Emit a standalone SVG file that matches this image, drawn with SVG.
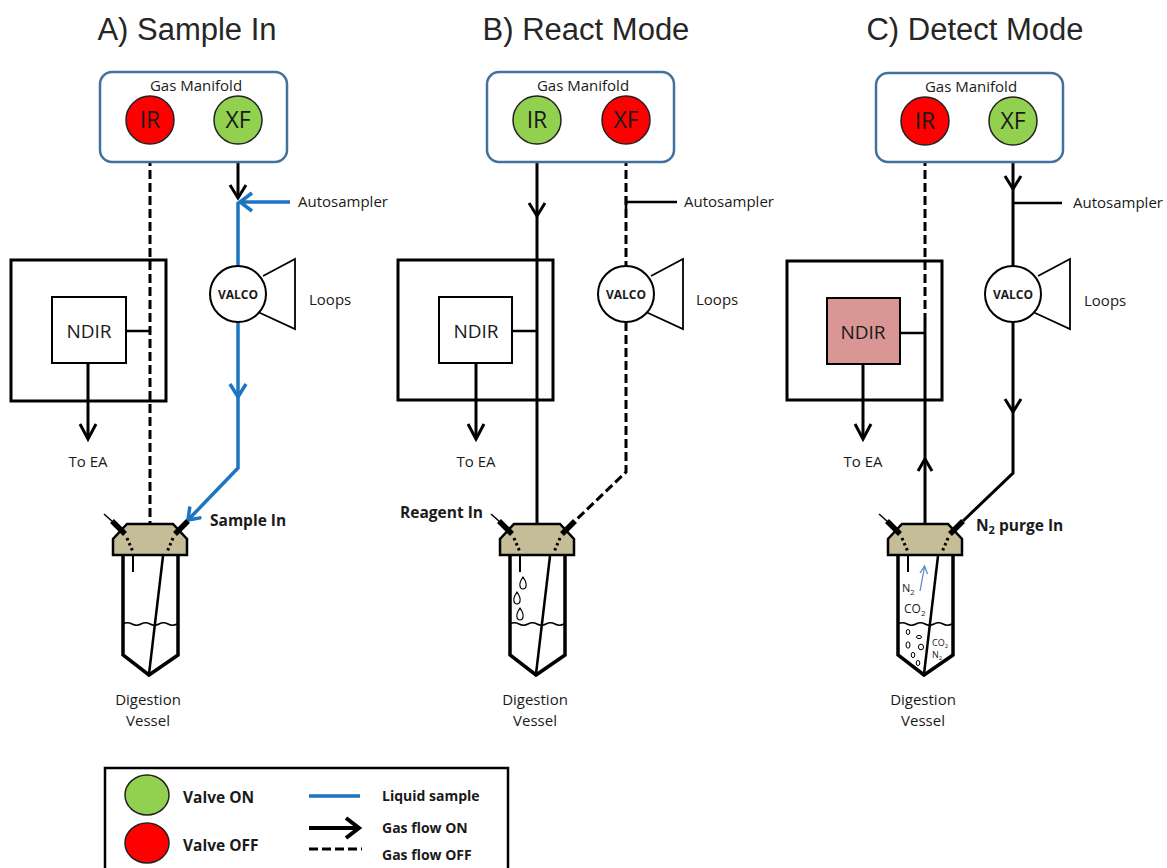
<svg xmlns="http://www.w3.org/2000/svg" width="1167" height="868" viewBox="0 0 1167 868">
<style>
  text { font-family: "Open Sans", "Liberation Sans", sans-serif; fill: #1a1a1a; }
  .title { font-family: "Liberation Sans", Arial, sans-serif; font-size: 31px; text-anchor: middle; fill: #262626; }
  .lbl { font-size: 15px; }
  .b { font-weight: bold; }
  .mid { text-anchor: middle; }
  .manifold { fill: #fff; stroke: #41719c; stroke-width: 2.5; }
  .on { fill: #92d050; stroke: #222; stroke-width: 1.5; }
  .off { fill: #ff0000; stroke: #222; stroke-width: 1.5; }
  .vtxt { font-size: 23px; text-anchor: middle; }
  .gas { fill: none; stroke: #000; stroke-width: 3; }
  .gasoff { fill: none; stroke: #000; stroke-width: 3; stroke-dasharray: 9 4; }
  .liquid { fill: none; stroke: #1b75c0; stroke-width: 3.5; }
  .chev { fill: none; stroke: #000; stroke-width: 3; }
  .chevb { fill: none; stroke: #1b75c0; stroke-width: 3.5; }
  .outer { fill: none; stroke: #000; stroke-width: 3; }
  .ndir { fill: #fff; stroke: #000; stroke-width: 2; }
  .ndir-on { fill: #d99694; stroke: #000; stroke-width: 2; }
  .stub { fill: none; stroke: #000; stroke-width: 2.5; }
  .valco { fill: #fff; stroke: #000; stroke-width: 2; }
  .loops { fill: none; stroke: #000; stroke-width: 1.8; }
</style>
<defs>
  <marker id="arrowBlue" viewBox="0 0 14 18" refX="12" refY="9" markerWidth="14" markerHeight="18" markerUnits="userSpaceOnUse" orient="auto">
    <path d="M1,1 L12,9 L1,17" fill="none" stroke="#1b75c0" stroke-width="3.5"/>
  </marker>
  <!-- digestion vessel, drawn around its centre line x = 0 -->
  <g id="vessel">
    <path d="M -27 555 V 655 L -1 675 L 28 655 V 555" fill="#fff" stroke="#000" stroke-width="3.5"/>
    <line x1="13" y1="556" x2="-1" y2="674" stroke="#000" stroke-width="2.5"/>
    <line x1="-17" y1="556" x2="-17" y2="572" stroke="#000" stroke-width="2"/>
    <path d="M -27 624 q 4.5 -2.5 9 0 t 9 0 t 9 0 t 9 0 t 9 0 t 9 0" fill="none" stroke="#000" stroke-width="1.5"/>
    <polygon points="-23,524 23,524 37,539 37,555 -37,555 -37,539" fill="#c4bd97" stroke="#000" stroke-width="2.5"/>
    <line x1="-46" y1="514" x2="-37" y2="522" stroke="#000" stroke-width="1.5"/>
    <line x1="-38" y1="521" x2="-25" y2="534" stroke="#000" stroke-width="5.5"/>
    <line x1="-23" y1="538" x2="-17" y2="552" stroke="#000" stroke-width="3" stroke-dasharray="2.5 3"/>
    <line x1="38" y1="521" x2="25" y2="534" stroke="#000" stroke-width="5.5"/>
    <line x1="23" y1="538" x2="17" y2="552" stroke="#000" stroke-width="3" stroke-dasharray="2.5 3"/>
    <text x="-2" y="705" class="lbl mid">Digestion</text>
    <text x="-2" y="726" class="lbl mid">Vessel</text>
  </g>
  <!-- rotary valve with its sample loops, centred at 0,0 -->
  <g id="valcoValve">
    <polyline class="loops" points="25,-18 57,-35 57,35 20,18"/>
    <circle class="valco" cx="0" cy="0" r="28"/>
    <text x="0" y="4.5" font-size="12" font-weight="bold" text-anchor="middle">VALCO</text>
  </g>
  <!-- water drop -->
  <path id="drop" d="M 0 -6 q 4 6 3 9 a 3 3 0 0 1 -6 0 q -1 -3 3 -9 z" fill="#fff" stroke="#000" stroke-width="1.2"/>
</defs>

<rect width="1167" height="868" fill="#fff"/>

<!-- panel titles -->
<text class="title" x="187" y="40">A) Sample In</text>
<text class="title" x="586" y="40">B) React Mode</text>
<text class="title" x="975" y="40">C) Detect Mode</text>

<!-- ===== connectors ===== -->
<g id="connectors">
  <!-- A: sample in -->
  <line class="gasoff" x1="150" y1="144" x2="150" y2="524"/>
  <line class="stub" x1="126" y1="331" x2="150" y2="331"/>
  <line class="gas" x1="88" y1="363" x2="88" y2="438" stroke-width="3.5"/>
  <polyline class="chev" points="80,424 88,439 96,424" stroke-width="3.5"/>
  <line class="gas" x1="238" y1="144" x2="238" y2="198"/>
  <polyline class="chev" points="230,185 238,198 246,185"/>
  <line class="liquid" x1="290" y1="202" x2="241" y2="202"/>
  <polyline class="chevb" points="252,193 240,202 252,211"/>
  <polyline class="liquid" points="238,202 238,468 188,520" marker-end="url(#arrowBlue)"/>
  <polyline class="chevb" points="230,384 238,397 246,384"/>

  <!-- B: react mode -->
  <line class="gas" x1="537" y1="144" x2="537" y2="524"/>
  <polyline class="chev" points="529,203 537,216 545,203"/>
  <line class="stub" x1="512" y1="331" x2="537" y2="331"/>
  <line class="gas" x1="476" y1="363" x2="476" y2="438" stroke-width="3.5"/>
  <polyline class="chev" points="468,424 476,439 484,424" stroke-width="3.5"/>
  <line class="gasoff" x1="626" y1="144" x2="626" y2="266"/>
  <line class="stub" x1="626" y1="202" x2="677" y2="202"/>
  <line class="stub" x1="626" y1="196" x2="626" y2="209"/>
  <polyline class="gasoff" points="626,322 626,472 575,521"/>

  <!-- C: detect mode -->
  <line class="gasoff" x1="925" y1="144" x2="925" y2="322"/>
  <line class="gas" x1="925" y1="322" x2="925" y2="524"/>
  <polyline class="chev" points="918,471 925,459 932,471"/>
  <line class="stub" x1="900" y1="333" x2="925" y2="333"/>
  <line class="gas" x1="863" y1="364" x2="863" y2="438" stroke-width="3.5"/>
  <polyline class="chev" points="855,424 863,439 871,424" stroke-width="3.5"/>
  <line class="gas" x1="1013" y1="144" x2="1013" y2="266"/>
  <polyline class="chev" points="1005,176 1013,189 1021,176"/>
  <line class="stub" x1="1013" y1="203" x2="1062" y2="203"/>
  <polyline class="gas" points="1013,322 1013,473 963,521"/>
  <polyline class="chev" points="1005,399 1013,412 1021,399"/>
</g>

<!-- ===== panel A nodes ===== -->
<g id="manifoldA">
  <rect class="manifold" x="100" y="72" width="187" height="90" rx="12" fill="none"/>
  <text x="196" y="91" class="lbl mid">Gas Manifold</text>
</g>
<g id="valveIR_A"><circle class="off" cx="150" cy="120" r="24"/><text class="vtxt" x="150" y="128">IR</text></g>
<g id="valveXF_A"><circle class="on" cx="238" cy="120" r="24"/><text class="vtxt" x="238" y="128">XF</text></g>
<g id="ndirA">
  <rect class="outer" x="11" y="260" width="155" height="141"/>
  <rect class="ndir" x="52" y="297" width="74" height="66"/>
  <text x="89" y="338" font-size="19" text-anchor="middle">NDIR</text>
  <text x="88" y="467" class="lbl mid">To EA</text>
</g>
<g id="valcoA">
  <use href="#valcoValve" transform="translate(238,294)"/>
  <text x="298" y="207" class="lbl">Autosampler</text>
  <text x="309" y="305" class="lbl">Loops</text>
</g>
<g id="vesselA">
  <use href="#vessel" transform="translate(150,0)"/>
  <text x="210" y="526" font-size="15.5" font-weight="bold">Sample In</text>
</g>

<!-- ===== panel B nodes ===== -->
<g id="manifoldB">
  <rect class="manifold" x="487" y="72" width="187" height="90" rx="12" fill="none"/>
  <text x="583" y="91" class="lbl mid">Gas Manifold</text>
</g>
<g id="valveIR_B"><circle class="on" cx="537" cy="120" r="24"/><text class="vtxt" x="537" y="128">IR</text></g>
<g id="valveXF_B"><circle class="off" cx="626" cy="120" r="24"/><text class="vtxt" x="626" y="128">XF</text></g>
<g id="ndirB">
  <rect class="outer" x="398" y="260" width="155" height="140"/>
  <rect class="ndir" x="439" y="297" width="73" height="66"/>
  <text x="476" y="338" font-size="19" text-anchor="middle">NDIR</text>
  <text x="476" y="467" class="lbl mid">To EA</text>
</g>
<g id="valcoB">
  <use href="#valcoValve" transform="translate(626,294)"/>
  <text x="684" y="207" class="lbl">Autosampler</text>
  <text x="696" y="305" class="lbl">Loops</text>
</g>
<g id="vesselB">
  <use href="#vessel" transform="translate(537,0)"/>
  <use href="#drop" transform="translate(523,583)"/>
  <use href="#drop" transform="translate(517,598)"/>
  <use href="#drop" transform="translate(520,614)"/>
  <text x="483" y="518" font-size="15.5" font-weight="bold" text-anchor="end">Reagent In</text>
</g>

<!-- ===== panel C nodes ===== -->
<g id="manifoldC">
  <rect class="manifold" x="876" y="73" width="187" height="89" rx="12" fill="none"/>
  <text x="971" y="92" class="lbl mid">Gas Manifold</text>
</g>
<g id="valveIR_C"><circle class="off" cx="925" cy="121" r="24"/><text class="vtxt" x="925" y="129">IR</text></g>
<g id="valveXF_C"><circle class="on" cx="1013" cy="121" r="24"/><text class="vtxt" x="1013" y="129">XF</text></g>
<g id="ndirC">
  <rect class="outer" x="787" y="261" width="155" height="139"/>
  <rect class="ndir-on" x="827" y="298" width="73" height="66"/>
  <text x="863" y="339" font-size="19" text-anchor="middle">NDIR</text>
  <text x="863" y="467" class="lbl mid">To EA</text>
</g>
<g id="valcoC">
  <use href="#valcoValve" transform="translate(1013,294)"/>
  <text x="1073" y="208" class="lbl">Autosampler</text>
  <text x="1084" y="306" class="lbl">Loops</text>
</g>
<g id="vesselC">
  <use href="#vessel" transform="translate(925,0)"/>
  <line x1="920" y1="591" x2="924.5" y2="567" stroke="#5b8ac6" stroke-width="1.3"/>
  <polyline points="920,573 924.5,566 927.5,574" fill="none" stroke="#5b8ac6" stroke-width="1.3"/>
  <text x="902" y="592" font-size="11">N<tspan font-size="7.5" dy="3">2</tspan></text>
  <text x="904" y="613" font-size="12">CO<tspan font-size="8" dy="3">2</tspan></text>
  <g fill="none" stroke="#000" stroke-width="1">
    <ellipse cx="908" cy="632" rx="1.8" ry="2.5"/>
    <ellipse cx="919" cy="637" rx="2.5" ry="1.6"/>
    <ellipse cx="908" cy="645" rx="2" ry="3.2"/>
    <ellipse cx="921" cy="647" rx="2.6" ry="2.8"/>
    <ellipse cx="913" cy="655" rx="1.8" ry="2.6"/>
    <ellipse cx="918" cy="663" rx="1.8" ry="2.6"/>
  </g>
  <text x="932" y="646" font-size="9">CO<tspan font-size="6" dy="2">2</tspan></text>
  <text x="932" y="658" font-size="9">N<tspan font-size="6" dy="2">2</tspan></text>
  <text x="976" y="531" font-size="15.5" font-weight="bold">N<tspan font-size="11" dy="3">2</tspan><tspan dy="-3"> purge In</tspan></text>
</g>

<!-- ===== legend ===== -->
<g id="legend">
  <rect x="105" y="768" width="403" height="112" fill="none" stroke="#000" stroke-width="2.5"/>
  <ellipse class="on" cx="147" cy="795" rx="22" ry="20"/>
  <ellipse class="off" cx="147" cy="843" rx="22" ry="20"/>
  <text x="183" y="803" font-size="15.5" font-weight="bold">Valve ON</text>
  <text x="183" y="851" font-size="15.5" font-weight="bold">Valve OFF</text>
  <line x1="309" y1="796" x2="360" y2="796" stroke="#1b75c0" stroke-width="3.5"/>
  <line x1="309" y1="828" x2="357" y2="828" stroke="#000" stroke-width="4"/>
  <polyline points="346,818 359,828 346,838" fill="none" stroke="#000" stroke-width="4"/>
  <line x1="309" y1="849" x2="362" y2="849" stroke="#000" stroke-width="3" stroke-dasharray="9 4"/>
  <text x="382" y="801" font-size="14" font-weight="bold">Liquid sample</text>
  <text x="382" y="833" font-size="14" font-weight="bold">Gas flow ON</text>
  <text x="382" y="860" font-size="14" font-weight="bold">Gas flow OFF</text>
</g>
</svg>
